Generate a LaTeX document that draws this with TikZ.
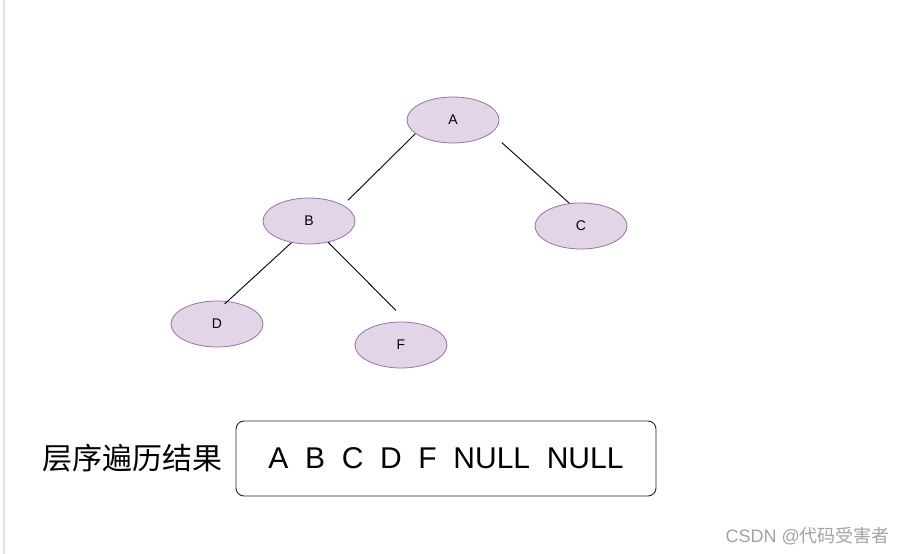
\documentclass[tikz,border=0pt]{standalone}
\usepackage{fontspec}
\setmainfont{Liberation Sans}
\newfontfamily\cjkfont{Noto Sans CJK SC}
\usetikzlibrary{shapes.geometric,positioning}
\definecolor{nodeFill}{HTML}{E1D5E7}
\definecolor{nodeLine}{HTML}{9673A6}
\definecolor{sideGray}{HTML}{E4E4E4}
\definecolor{markGray}{HTML}{A3A3A3}

\begin{document}
\begin{tikzpicture}[
  x=1pt,y=-1pt,
  treenode/.style={ellipse,draw=nodeLine,fill=nodeFill,line width=0.8pt,minimum width=92pt,minimum height=46pt,inner sep=0pt,font=\fontsize{14}{16}\selectfont},
  edge/.style={draw=black,line width=0.9pt},
  resbox/.style={draw=black!85,rounded corners=8pt,line width=0.9pt,minimum width=420pt,minimum height=75pt,font=\fontsize{30}{34}\selectfont}
]
  \useasboundingbox (0,0) rectangle (906,554);
  \fill[white] (0,0) rectangle (906,554);
  \draw[sideGray,line width=2pt] (4,0) -- (4,554);

  % tree
  \node[treenode] (A) at (453,120) {A};
  \node[treenode] (B) at (309,221) {B};
  \node[treenode] (C) at (581,226) {C};
  \node[treenode] (D) at (217,324) {D};
  \node[treenode] (F) at (401,345) {F};

  \draw[edge,shorten >=7pt] (A.200) -- (B.25);
  \draw[edge,shorten <=14pt] (A.-19) -- (C.117);
  \draw[edge,shorten >=-4pt] (B.231) -- (D.65);
  \draw[edge,shorten >=16pt] (B.-48) -- (F.75);

  % result
  \node[resbox] (res) at (446,458.5) {A\ \ B\ \ C\ \ D\ \ F\ \ NULL\ \ NULL};
  \node[left=13pt of res,inner sep=0pt,font=\fontsize{30}{34}\selectfont\cjkfont] (lbl) {层序遍历结果};

  \node[anchor=east,inner sep=0pt,text=markGray,font=\fontsize{18}{20}\selectfont] (mark) at (890,536) {CSDN @{\cjkfont 代码受害者}};
\end{tikzpicture}
\end{document}
